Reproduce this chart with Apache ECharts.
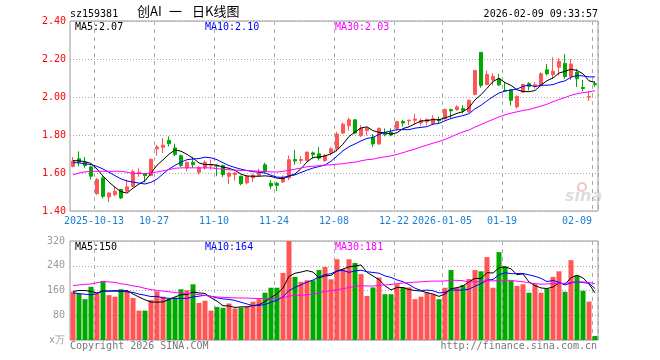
<!DOCTYPE html>
<html><head><meta charset="utf-8">
<script src="https://cdn.jsdelivr.net/npm/echarts@6/dist/echarts.min.js"></script>
<style>html,body{margin:0;padding:0;background:#fff}#c{width:660px;height:360px}</style>
</head><body><div id="c"></div>
<script>
const dates = ['2025-09-29','2025-09-30','2025-10-09','2025-10-10','2025-10-13','2025-10-14','2025-10-15','2025-10-16','2025-10-17','2025-10-20',
'2025-10-21','2025-10-22','2025-10-23','2025-10-24','2025-10-27','2025-10-28','2025-10-29','2025-10-30','2025-10-31','2025-11-03',
'2025-11-04','2025-11-05','2025-11-06','2025-11-07','2025-11-10','2025-11-11','2025-11-12','2025-11-13','2025-11-14','2025-11-17',
'2025-11-18','2025-11-19','2025-11-20','2025-11-21','2025-11-24','2025-11-25','2025-11-26','2025-11-27','2025-11-28','2025-12-01',
'2025-12-02','2025-12-03','2025-12-04','2025-12-05','2025-12-08','2025-12-09','2025-12-10','2025-12-11','2025-12-12','2025-12-15',
'2025-12-16','2025-12-17','2025-12-18','2025-12-19','2025-12-22','2025-12-23','2025-12-24','2025-12-25','2025-12-26','2025-12-29',
'2025-12-30','2025-12-31','2026-01-05','2026-01-06','2026-01-07','2026-01-08','2026-01-09','2026-01-12','2026-01-13','2026-01-14',
'2026-01-15','2026-01-16','2026-01-19','2026-01-20','2026-01-21','2026-01-22','2026-01-23','2026-01-26','2026-01-27','2026-01-28',
'2026-01-29','2026-01-30','2026-02-02','2026-02-03','2026-02-04','2026-02-05','2026-02-06','2026-02-09'];

const opens = [1.635,1.675,1.656,1.632,1.491,1.574,1.474,1.486,1.513,1.504,
1.530,1.597,1.595,1.586,1.727,1.735,1.772,1.732,1.691,1.627,
1.656,1.604,1.627,1.638,1.640,1.639,1.583,1.592,1.583,1.548,
1.574,1.588,1.643,1.546,1.546,1.553,1.574,1.671,1.666,1.666,
1.706,1.701,1.666,1.706,1.727,1.810,1.849,1.880,1.797,1.823,
1.788,1.753,1.810,1.814,1.835,1.871,1.875,1.878,1.863,1.870,
1.861,1.882,1.885,1.934,1.934,1.939,1.922,2.014,2.235,2.066,
2.091,2.096,2.036,2.038,1.948,2.026,2.070,2.057,2.061,2.143,
2.118,2.157,2.177,2.108,2.130,2.050,2.000,2.070];
const closes = [1.663,1.656,1.639,1.583,1.565,1.477,1.495,1.504,1.469,1.527,
1.607,1.604,1.586,1.672,1.737,1.746,1.754,1.697,1.639,1.656,
1.644,1.627,1.656,1.644,1.636,1.591,1.600,1.600,1.544,1.583,
1.588,1.600,1.609,1.532,1.535,1.574,1.670,1.663,1.671,1.710,
1.697,1.678,1.692,1.727,1.805,1.857,1.880,1.810,1.835,1.835,
1.753,1.835,1.802,1.800,1.870,1.863,1.878,1.884,1.875,1.882,
1.885,1.875,1.934,1.927,1.948,1.930,1.983,2.139,2.061,2.118,
2.108,2.064,2.031,1.983,2.003,2.066,2.056,2.064,2.122,2.122,
2.136,2.188,2.108,2.174,2.096,2.045,2.003,2.065];
const lows = [1.630,1.635,1.627,1.565,1.486,1.466,1.446,1.477,1.463,1.502,
1.527,1.581,1.551,1.584,1.690,1.705,1.740,1.688,1.632,1.609,
1.627,1.592,1.618,1.618,1.583,1.579,1.542,1.560,1.535,1.540,
1.553,1.579,1.597,1.515,1.505,1.548,1.562,1.643,1.649,1.661,
1.675,1.666,1.657,1.692,1.713,1.805,1.823,1.805,1.788,1.797,
1.736,1.748,1.793,1.793,1.823,1.845,1.852,1.857,1.849,1.852,
1.852,1.861,1.882,1.887,1.927,1.913,1.917,2.009,2.049,2.061,
2.061,2.057,2.029,1.956,1.939,2.021,2.035,2.043,2.056,2.113,
2.096,2.113,2.096,2.090,2.052,2.031,1.979,2.052];
const highs = [1.684,1.714,1.684,1.639,1.574,1.583,1.497,1.530,1.516,1.565,
1.619,1.625,1.600,1.677,1.749,1.784,1.793,1.754,1.697,1.660,
1.684,1.635,1.667,1.670,1.644,1.644,1.602,1.604,1.586,1.590,
1.596,1.623,1.654,1.562,1.553,1.588,1.692,1.723,1.689,1.713,
1.713,1.736,1.701,1.736,1.817,1.866,1.892,1.883,1.852,1.840,
1.805,1.840,1.835,1.835,1.875,1.880,1.880,1.910,1.887,1.887,
1.904,1.896,1.939,1.939,1.957,1.957,1.986,2.143,2.235,2.139,
2.125,2.122,2.077,2.043,2.009,2.070,2.078,2.078,2.130,2.174,
2.209,2.205,2.226,2.200,2.148,2.090,2.031,2.082];

const ma5 = [1.665,1.664,1.660,1.650,1.621,1.584,1.552,1.525,1.502,1.494,
1.520,1.542,1.559,1.599,1.641,1.669,1.699,1.721,1.715,1.698,
1.678,1.653,1.644,1.645,1.641,1.631,1.625,1.614,1.594,1.584,
1.583,1.583,1.585,1.582,1.573,1.570,1.584,1.595,1.623,1.658,
1.682,1.684,1.690,1.701,1.720,1.752,1.792,1.816,1.837,1.843,
1.823,1.814,1.812,1.805,1.812,1.834,1.843,1.859,1.874,1.876,
1.881,1.880,1.890,1.901,1.914,1.923,1.944,1.985,2.012,2.046,
2.082,2.098,2.076,2.061,2.038,2.029,2.028,2.034,2.062,2.086,
2.100,2.126,2.135,2.146,2.140,2.122,2.085,2.077];
const ma10 = [1.655,1.653,1.649,1.644,1.635,1.621,1.604,1.586,1.569,1.558,
1.552,1.547,1.542,1.551,1.568,1.595,1.621,1.640,1.657,1.670,
1.674,1.676,1.683,1.680,1.670,1.654,1.639,1.629,1.620,1.613,
1.607,1.604,1.600,1.588,1.578,1.577,1.584,1.590,1.603,1.615,
1.626,1.634,1.642,1.662,1.689,1.717,1.738,1.753,1.769,1.782,
1.787,1.803,1.814,1.821,1.828,1.828,1.828,1.836,1.840,1.844,
1.857,1.861,1.875,1.887,1.895,1.902,1.912,1.938,1.956,1.980,
2.002,2.021,2.031,2.037,2.042,2.056,2.063,2.055,2.062,2.062,
2.065,2.077,2.085,2.104,2.113,2.111,2.106,2.106];
const ma30 = [1.591,1.600,1.606,1.609,1.609,1.609,1.609,1.609,1.609,1.604,
1.598,1.597,1.597,1.600,1.606,1.611,1.618,1.625,1.627,1.627,
1.627,1.627,1.627,1.627,1.623,1.619,1.617,1.615,1.614,1.613,
1.611,1.609,1.608,1.606,1.605,1.609,1.614,1.620,1.626,1.633,
1.636,1.638,1.642,1.643,1.646,1.649,1.654,1.657,1.664,1.670,
1.673,1.680,1.685,1.690,1.698,1.707,1.717,1.726,1.737,1.747,
1.757,1.766,1.777,1.790,1.804,1.816,1.826,1.842,1.855,1.869,
1.882,1.895,1.906,1.915,1.922,1.929,1.934,1.943,1.952,1.962,
1.975,1.987,1.997,2.009,2.017,2.023,2.027,2.033];

const volumes = [156,150,132,172,150,191,145,140,164,159,
136,95,95,129,157,140,133,137,164,161,
180,120,127,95,107,104,118,102,105,107,
124,132,153,169,169,217,320,204,188,193,
193,226,236,196,261,229,261,249,213,142,
170,202,148,148,180,170,170,132,140,153,
148,132,169,226,170,177,197,226,222,268,
169,284,238,191,175,180,153,180,153,166,
204,222,156,258,208,159,124,13];
const volMa5 = [157,160,160,157,152,159,158,159.6,158,159.8,
148.8,138.8,129.8,122.8,122.4,123.2,130.8,139.2,146.2,147,
155,152.4,150.4,136.6,125.8,110.6,110.2,105.2,107.2,107.2,
111.2,114,124.2,137,149.4,168,205.6,215.8,219.6,224.4,
219.6,200.8,207.2,208.8,222.4,229.6,236.6,239.2,242.6,218.8,
207,195.2,175,162,169.6,169.6,163.2,160,158.4,153,
148.6,141,148.4,165.6,169,174.8,187.8,199.2,198.4,218,
216.4,233.8,236.2,230,211.4,213.6,187.4,175.8,168.2,166.4,
171.2,185,180.2,201.2,209.6,200.6,181,152.4];
const volMa10 = [152,150,148,146,150,158,158,158,157,155.9,
153.9,148.4,144.7,140.4,141.1,136,134.8,134.5,134.5,134.7,
139.1,141.6,144.8,141.4,136.4,132.8,131.3,127.8,121.9,116.5,
110.9,112.1,114.7,122.1,128.3,139.6,159.8,170,178.3,186.9,
193.8,203.2,211.5,214.2,223.4,224.6,218.7,223.2,225.7,220.6,
218.3,215.9,207.1,202.3,194.2,188.3,179.2,167.5,160.2,161.3,
159.1,152.1,154.2,162,161,161.7,164.4,173.8,182,193.5,
195.6,210.8,217.7,214.2,214.7,215,210.6,206,199.1,188.9,
192.4,186.2,178,184.7,188,185.9,183,166.3];
const volMa30 = [176,178,180,181,185,189,188,186,182,179,
175,172,167,163,160,158,156,153,152,151,
149,147,144,141,139,138,137,136,136,135.7,
134.6,134.0,134.7,134.6,135.3,136.1,142.0,144.1,144.9,146.0,
147.9,152.3,157.0,159.2,162.7,165.7,169.9,173.7,175.3,174.7,
174.3,177.1,177.8,179.5,182.0,184.2,185.9,186.9,188.1,189.6,
190.4,190.4,190.9,192.8,192.9,191.5,187.4,188.2,189.3,191.8,
191.0,192.9,193.0,192.8,190.0,188.3,184.7,182.4,180.4,181.2,
182.4,183.0,183.3,187.0,187.9,187.5,186.0,182.0];

const tickIdx = [4,14,24,34,44,54,62,72,87];
const tickText = ['2025-10-13','10-27','11-10','11-24','12-08','12-22','2026-01-05','01-19','02-09'];
const priceLegend = ['MA5:2.07','MA10:2.10','MA30:2.03'];
const volLegend = ['MA5:150','MA10:164','MA30:181'];
const headerCode = 'sz159381';
const headerTitleParts = ['创AI', '一', '日K线图'];
const headerTime = '2026-02-09 09:33:57';

const MONO = 'DejaVu Sans Mono';
const CJK = '"Noto Sans CJK SC"';
const UP = '#ff5555', DOWN = '#00a800';
const GRIDC = '#aaaaaa';
const isTick = (i) => tickIdx.indexOf(i) >= 0;

const chart = echarts.init(document.getElementById('c'), null, {renderer: 'canvas'});

const candleData = dates.map((d, i) => [opens[i], closes[i], lows[i], highs[i]]);
const volData = dates.map((d, i) => ({value: volumes[i], itemStyle: {color: closes[i] >= opens[i] ? UP : DOWN}}));

function xAxisCfg(gi, showLabel) {
  return {
    type: 'category', gridIndex: gi, data: dates, boundaryGap: true,
    axisLine: {show: false}, axisTick: {show: false},
    axisLabel: {
      show: showLabel, interval: (i) => isTick(i), color: '#1a7fd4',
      fontFamily: MONO, fontSize: 10, margin: 5, padding: [0, 6, 0, 0],
      formatter: (v, i) => {
        const k = tickIdx.indexOf(i);
        const t = tickText[k];
        return k === tickIdx.length - 1 ? '{e|' + t + '}' : t;
      },
      rich: {e: {padding: [0, 30, 0, 0], color: '#1a7fd4', fontFamily: MONO, fontSize: 10}}
    },
    splitLine: {show: true, interval: (i) => isTick(i), lineStyle: {color: GRIDC, type: [4, 4], width: 1}}
  };
}

function lineSeries(data, color, xi, yi) {
  return {type: 'line', data: data, xAxisIndex: xi, yAxisIndex: yi, symbol: 'none', showSymbol: false,
    lineStyle: {color: color, width: 1}, z: 5, silent: true};
}

const option = {
  animation: false,
  backgroundColor: '#fff',
  grid: [
    {left: 70, top: 21, width: 528, height: 190, show: true, borderColor: '#999', borderWidth: 1},
    {left: 70, top: 241, width: 528, height: 99, show: true, borderColor: '#999', borderWidth: 1}
  ],
  xAxis: [xAxisCfg(0, true), xAxisCfg(1, false)],
  yAxis: [
    {type: 'value', gridIndex: 0, min: 1.4, max: 2.4, interval: 0.2,
      axisLine: {show: false}, axisTick: {show: false},
      axisLabel: {color: '#ff0000', fontFamily: MONO, fontSize: 10, margin: 4, formatter: (v) => v.toFixed(2)},
      splitLine: {lineStyle: {color: GRIDC, type: [1, 2]}}},
    {type: 'value', gridIndex: 1, min: 0, max: 320, interval: 80,
      axisLine: {show: false}, axisTick: {show: false},
      axisLabel: {color: '#999999', fontFamily: MONO, fontSize: 10, margin: 5, formatter: (v) => v === 0 ? 'x万' : String(v)},
      splitLine: {lineStyle: {color: GRIDC, type: [1, 2]}}}
  ],
  series: [
    {type: 'candlestick', xAxisIndex: 0, yAxisIndex: 0, data: candleData, barWidth: 4,
      itemStyle: {color: UP, color0: DOWN, borderColor: UP, borderColor0: DOWN, borderWidth: 1}, z: 3},
    lineSeries(ma5, '#000000', 0, 0),
    lineSeries(ma10, '#0000ff', 0, 0),
    lineSeries(ma30, '#ff00ff', 0, 0),
    {type: 'bar', xAxisIndex: 1, yAxisIndex: 1, data: volData, barWidth: 5, z: 3},
    lineSeries(volMa5, '#000000', 1, 1),
    lineSeries(volMa10, '#0000ff', 1, 1),
    lineSeries(volMa30, '#ff00ff', 1, 1)
  ],
  graphic: [
    {type: 'text', left: 70, top: 9, style: {text: headerCode, font: '10px ' + MONO, fill: '#000'}},
    {type: 'text', left: 137, top: 5, style: {text: headerTitleParts[0], font: '13px ' + CJK, fill: '#000'}},
    {type: 'text', left: 169, top: 5, style: {text: headerTitleParts[1], font: '13px ' + CJK, fill: '#000'}},
    {type: 'text', left: 192, top: 5, style: {text: headerTitleParts[2], font: '13px ' + CJK, fill: '#000'}},
    {type: 'text', right: 62, top: 9, style: {text: headerTime, font: '10px ' + MONO, fill: '#000'}},
    {type: 'text', left: 75, top: 22, style: {text: priceLegend[0], font: '10px ' + MONO, fill: '#000'}},
    {type: 'text', left: 205, top: 22, style: {text: priceLegend[1], font: '10px ' + MONO, fill: '#0000ff'}},
    {type: 'text', left: 335, top: 22, style: {text: priceLegend[2], font: '10px ' + MONO, fill: '#ff00ff'}},
    {type: 'text', left: 75, top: 242, style: {text: volLegend[0], font: '10px ' + MONO, fill: '#000'}},
    {type: 'text', left: 205, top: 242, style: {text: volLegend[1], font: '10px ' + MONO, fill: '#0000ff'}},
    {type: 'text', left: 335, top: 242, style: {text: volLegend[2], font: '10px ' + MONO, fill: '#ff00ff'}},
    {type: 'text', left: 70, top: 341, style: {text: 'Copyright 2026 SINA.COM', font: '10px ' + MONO, fill: '#777'}},
    {type: 'text', right: 63, top: 341, style: {text: 'http://finance.sina.com.cn', font: '10px ' + MONO, fill: '#777'}},
    {type: 'text', left: 565, top: 189, z: 0, style: {text: 'sina', font: 'italic bold 16px "DejaVu Sans"', fill: '#dddddd'}},
    {type: 'circle', shape: {cx: 582, cy: 187, r: 4}, z: 0, style: {fill: 'none', stroke: '#f2c4c4', lineWidth: 2}}
  ]
};
chart.setOption(option);
</script>
</body></html>
